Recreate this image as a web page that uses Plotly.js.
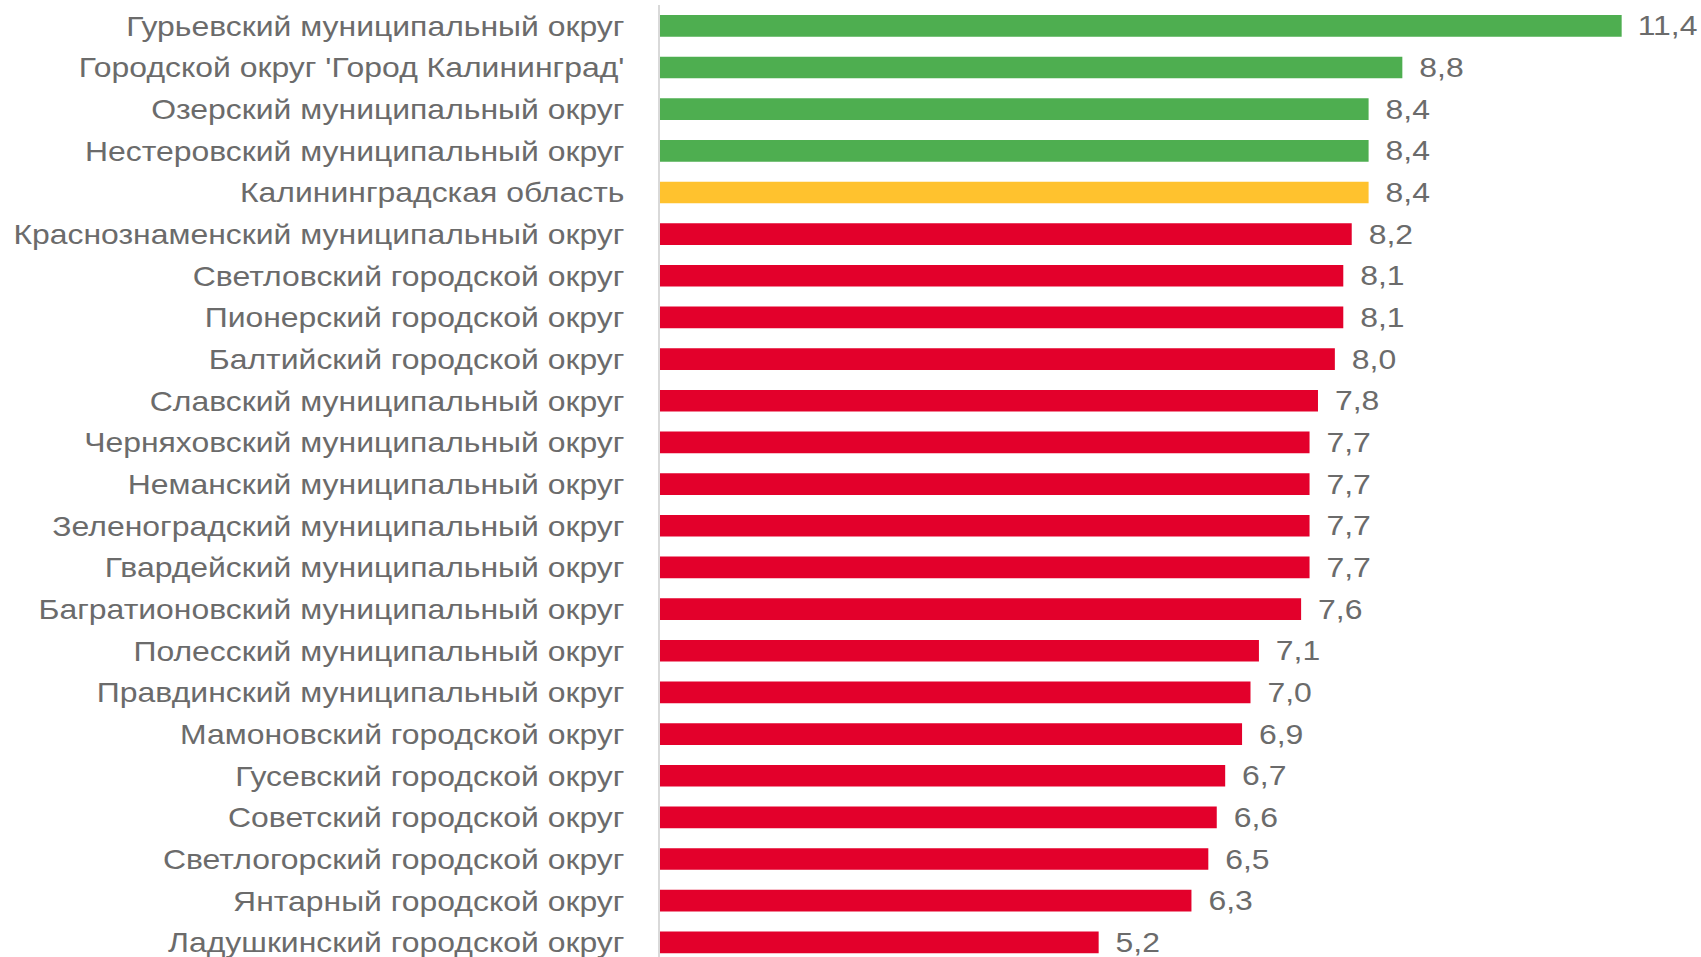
<!DOCTYPE html>
<html>
<head>
<meta charset="utf-8">
<script src="https://cdn.plot.ly/plotly-3.0.1.min.js"></script>
<style>html,body{margin:0;padding:0;background:#fff;}#chart{width:1701px;height:957px;}</style>
</head>
<body>
<div id="chart"></div>
<script>
const categories = [
  "Гурьевский муниципальный округ",
  "Городской округ 'Город Калининград'",
  "Озерский муниципальный округ",
  "Нестеровский муниципальный округ",
  "Калининградская область",
  "Краснознаменский муниципальный округ",
  "Светловский городской округ",
  "Пионерский городской округ",
  "Балтийский городской округ",
  "Славский муниципальный округ",
  "Черняховский муниципальный округ",
  "Неманский муниципальный округ",
  "Зеленоградский муниципальный округ",
  "Гвардейский муниципальный округ",
  "Багратионовский муниципальный округ",
  "Полесский муниципальный округ",
  "Правдинский муниципальный округ",
  "Мамоновский городской округ",
  "Гусевский городской округ",
  "Советский городской округ",
  "Светлогорский городской округ",
  "Янтарный городской округ",
  "Ладушкинский городской округ"
];
const values = [11.4, 8.8, 8.4, 8.4, 8.4, 8.2, 8.1, 8.1, 8.0, 7.8, 7.7, 7.7, 7.7, 7.7, 7.6, 7.1, 7.0, 6.9, 6.7, 6.6, 6.5, 6.3, 5.2];
const groups = ["above","above","above","above","region","below","below","below","below","below","below","below","below","below","below","below","below","below","below","below","below","below","below"];
const groupColors = {above: "#4EAE50", region: "#FFC22E", below: "#E3002B"};

const colors = groups.map(g => groupColors[g]);
const textColor = "#6B6B6B";
const FONT = "Liberation Sans, Arial, sans-serif";
const STRETCH = 1.14;

const trace = {
  type: "bar",
  orientation: "h",
  x: values,
  y: categories,
  marker: {color: colors},
  texttemplate: "  %{x:.1f}",
  textposition: "outside",
  constraintext: "none",
  cliponaxis: false,
  textfont: {family: FONT, size: 28, color: textColor},
  hoverinfo: "none"
};

const n = categories.length;
const layout = {
  width: 1701,
  height: 957,
  margin: {l: 660, r: 4, t: 5, b: 0},
  paper_bgcolor: "#ffffff",
  plot_bgcolor: "#ffffff",
  separators: ", ",
  bargap: 0.48,
  showlegend: false,
  font: {family: FONT, size: 28, color: textColor},
  xaxis: {
    range: [0, 12.293],
    showgrid: false,
    zeroline: false,
    showticklabels: false,
    showline: false,
    fixedrange: true
  },
  yaxis: {
    type: "category",
    range: [n - 0.5 - (n*41.66 - 952)/41.66, -0.5],
    showgrid: false,
    zeroline: false,
    showline: true,
    linecolor: "#D9D9D9",
    linewidth: 2,
    ticks: "",
    ticklabelstandoff: 28,
    tickfont: {family: FONT, size: 28, color: textColor},
    fixedrange: true
  }
};

Plotly.newPlot("chart", [trace], layout, {displayModeBar: false, staticPlot: true}).then(gd => {
  // widen the glyphs horizontally to match the reference's wide lettering
  gd.querySelectorAll(".ytick text, .bartext").forEach(t => {
    const w = t.getComputedTextLength();
    t.setAttribute("textLength", (w * STRETCH).toFixed(1));
    t.setAttribute("lengthAdjust", "spacingAndGlyphs");
  });
});
</script>
</body>
</html>
